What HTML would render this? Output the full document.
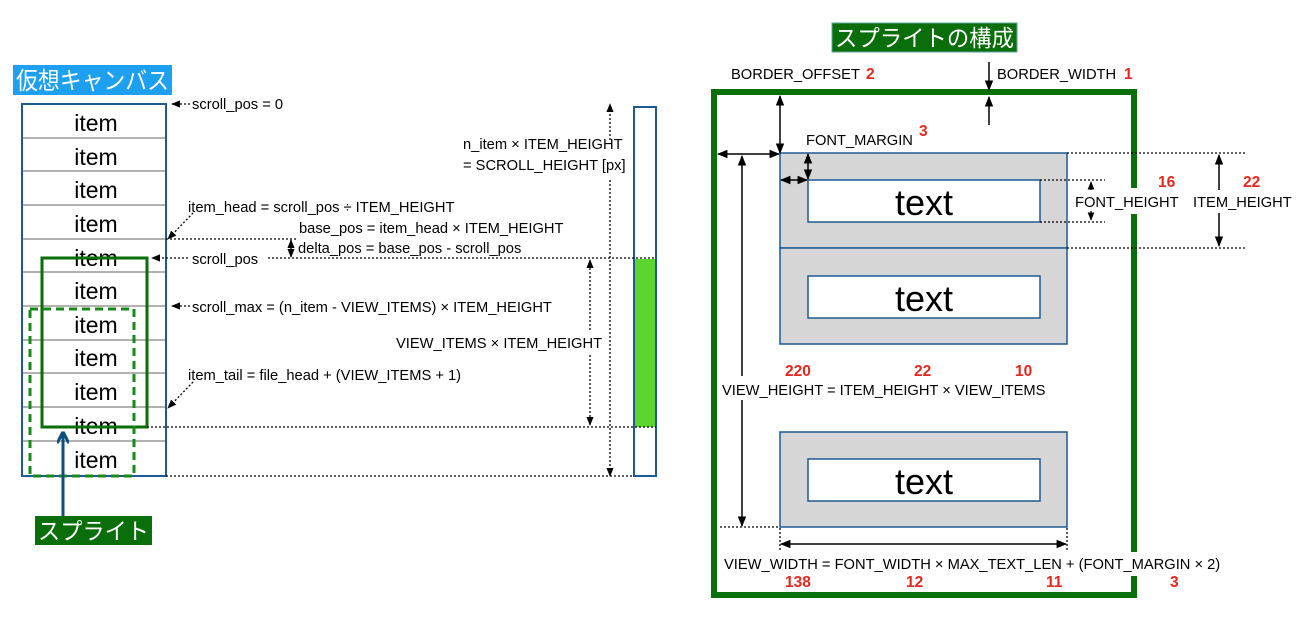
<!DOCTYPE html>
<html><head><meta charset="utf-8"><style>
html,body{margin:0;padding:0;background:#fff;}
svg text{font-family:"Liberation Sans","Noto Sans CJK JP",sans-serif;}
</style></head><body>
<svg width="1304" height="624" viewBox="0 0 1304 624" xmlns="http://www.w3.org/2000/svg">
<defs>
<marker id="a" viewBox="0 0 10 10" refX="9" refY="5" markerWidth="7" markerHeight="7" orient="auto-start-reverse"><path d="M0,1 L10,5 L0,9 z" fill="#000"/></marker>
<marker id="ab" viewBox="0 0 10 10" refX="8" refY="5" markerWidth="4" markerHeight="4" orient="auto"><path d="M0,0 L10,5 L0,10" fill="none" stroke="#0e4f7e" stroke-width="2.5"/></marker>
</defs>
<rect x="13" y="65" width="159" height="30" fill="#1ea0f0"/>
<text x="16" y="89" font-size="24" fill="#fff" textLength="153" lengthAdjust="spacingAndGlyphs">仮想キャンバス</text>
<g font-size="23" text-anchor="middle" fill="#000">
<rect x="22" y="104" width="144" height="372" fill="#fff" stroke="#1d5a94" stroke-width="2"/>
<g stroke="#999" stroke-width="1.5">
<line x1="23" y1="138" x2="165" y2="138"/><line x1="23" y1="171" x2="165" y2="171"/><line x1="23" y1="205" x2="165" y2="205"/><line x1="23" y1="239" x2="165" y2="239"/><line x1="23" y1="272" x2="165" y2="272"/><line x1="23" y1="306" x2="165" y2="306"/><line x1="23" y1="340" x2="165" y2="340"/><line x1="23" y1="373" x2="165" y2="373"/><line x1="23" y1="407" x2="165" y2="407"/><line x1="23" y1="441" x2="165" y2="441"/>
</g>
<text x="96" y="131">item</text><text x="96" y="165">item</text><text x="96" y="198">item</text><text x="96" y="232">item</text><text x="96" y="266">item</text><text x="96" y="299">item</text><text x="96" y="333">item</text><text x="96" y="366">item</text><text x="96" y="400">item</text><text x="96" y="434">item</text><text x="96" y="468">item</text>
</g>
<rect x="42" y="258" width="105" height="169" fill="none" stroke="#0a6e0a" stroke-width="3"/>
<rect x="30" y="309" width="104" height="167" fill="none" stroke="#178a17" stroke-width="3" stroke-dasharray="8,5"/>
<line x1="63" y1="517" x2="63" y2="434" stroke="#0e4f7e" stroke-width="3" marker-end="url(#ab)"/>
<rect x="35" y="516" width="117" height="29" fill="#0a6e0a"/>
<text x="38" y="539" font-size="23" fill="#fff" textLength="111" lengthAdjust="spacingAndGlyphs">スプライト</text>
<rect x="634" y="107" width="22" height="369" fill="#fff" stroke="#1d5a94" stroke-width="2"/>
<rect x="635" y="259" width="20" height="168" fill="#5ad62f"/>
<g stroke="#000" stroke-width="1.3" stroke-dasharray="2,2" fill="none">
<line x1="190" y1="104" x2="172" y2="104" marker-end="url(#a)"/>
<line x1="166" y1="239" x2="296" y2="239"/>
<line x1="188" y1="258" x2="152" y2="258" marker-end="url(#a)"/>
<line x1="268" y1="258" x2="656" y2="258"/>
<line x1="190" y1="306" x2="172" y2="306" marker-end="url(#a)"/>
<line x1="147" y1="427" x2="656" y2="427"/>
<line x1="166" y1="476" x2="634" y2="476"/>
<line x1="193" y1="213" x2="168" y2="239" marker-end="url(#a)"/>
<line x1="193" y1="382" x2="168" y2="408" marker-end="url(#a)"/>
<line x1="610" y1="140" x2="610" y2="104" marker-end="url(#a)"/>
<line x1="610" y1="180" x2="610" y2="476" marker-end="url(#a)"/>
<line x1="590" y1="330" x2="590" y2="260" marker-end="url(#a)"/>
<line x1="590" y1="355" x2="590" y2="425" marker-end="url(#a)"/>
</g>
<line x1="291" y1="240" x2="291" y2="257" stroke="#000" stroke-width="1.3" marker-start="url(#a)" marker-end="url(#a)"/>
<g font-size="14.7" fill="#000">
<text x="192" y="109">scroll_pos = 0</text>
<text x="463" y="149">n_item × ITEM_HEIGHT</text>
<text x="463" y="170">= SCROLL_HEIGHT [px]</text>
<text x="188" y="212">item_head = scroll_pos ÷ ITEM_HEIGHT</text>
<text x="299" y="233">base_pos = item_head × ITEM_HEIGHT</text>
<text x="298" y="253">delta_pos = base_pos - scroll_pos</text>
<text x="192" y="264">scroll_pos</text>
<text x="192" y="312">scroll_max = (n_item - VIEW_ITEMS) × ITEM_HEIGHT</text>
<text x="396" y="348">VIEW_ITEMS × ITEM_HEIGHT</text>
<text x="188" y="380">item_tail = file_head + (VIEW_ITEMS + 1)</text>
</g>
<rect x="832" y="23" width="185" height="29" fill="#0a6e0a" stroke="#5a9" stroke-width="1"/>
<text x="835" y="46" font-size="23" fill="#fff" textLength="179" lengthAdjust="spacingAndGlyphs">スプライトの構成</text>
<rect x="714" y="92" width="420" height="503" fill="none" stroke="#0a6e0a" stroke-width="6"/>
<g stroke="#1d5a94" stroke-width="1.5">
<rect x="780" y="153" width="287" height="95" fill="#d6d6d6"/>
<rect x="780" y="248" width="287" height="96" fill="#d6d6d6"/>
<rect x="780" y="432" width="287" height="95" fill="#d6d6d6"/>
<rect x="808" y="180" width="232" height="42" fill="#fff"/>
<rect x="808" y="276" width="232" height="42" fill="#fff"/>
<rect x="808" y="459" width="232" height="42" fill="#fff"/>
</g>
<g font-size="36" text-anchor="middle"><text x="924" y="215">text</text><text x="924" y="311">text</text><text x="924" y="494">text</text></g>
<g stroke="#000" stroke-width="1.3" stroke-dasharray="2,2" fill="none">
<line x1="1067" y1="153" x2="1245" y2="153"/><line x1="1067" y1="248" x2="1245" y2="248"/>
<line x1="1040" y1="180" x2="1105" y2="180"/><line x1="1040" y1="222" x2="1105" y2="222"/>
<line x1="720" y1="527" x2="780" y2="527"/>
<line x1="780" y1="528" x2="780" y2="550"/><line x1="1067" y1="528" x2="1067" y2="550"/>
</g>
<rect x="1070" y="188" width="108" height="26" fill="#fff"/>
<rect x="1085" y="552" width="60" height="24" fill="#fff"/>
<g stroke="#000" stroke-width="1.5" fill="none">
<line x1="989" y1="62" x2="989" y2="90" marker-end="url(#a)"/>
<line x1="989" y1="125" x2="989" y2="97" marker-end="url(#a)"/>
<line x1="780" y1="153" x2="780" y2="96" marker-start="url(#a)" marker-end="url(#a)"/>
<line x1="718" y1="154" x2="779" y2="154" marker-start="url(#a)" marker-end="url(#a)"/>
<line x1="808" y1="154" x2="808" y2="179" marker-start="url(#a)" marker-end="url(#a)"/>
<line x1="781" y1="180" x2="807" y2="180" marker-start="url(#a)" marker-end="url(#a)"/>
<line x1="742" y1="376" x2="742" y2="156" marker-end="url(#a)"/>
<line x1="742" y1="400" x2="742" y2="526" marker-end="url(#a)"/>
<line x1="1219" y1="190" x2="1219" y2="155" marker-end="url(#a)"/>
<line x1="1219" y1="213" x2="1219" y2="246" marker-end="url(#a)"/>
<line x1="781" y1="544" x2="1066" y2="544" marker-start="url(#a)" marker-end="url(#a)"/>
</g>
<g stroke="#000" stroke-width="1.2" fill="none">
<line x1="1091" y1="190" x2="1091" y2="182" marker-end="url(#a)"/>
<line x1="1091" y1="211" x2="1091" y2="220" marker-end="url(#a)"/>
</g>
<g font-size="14.7" fill="#000">
<text x="731" y="79">BORDER_OFFSET</text>
<text x="997" y="79">BORDER_WIDTH</text>
<text x="806" y="145">FONT_MARGIN</text>
<text x="1075" y="207">FONT_HEIGHT</text>
<text x="1193" y="207">ITEM_HEIGHT</text>
<text x="722" y="395">VIEW_HEIGHT = ITEM_HEIGHT × VIEW_ITEMS</text>
<text x="724" y="569">VIEW_WIDTH = FONT_WIDTH × MAX_TEXT_LEN + (FONT_MARGIN × 2)</text>
</g>
<g font-size="15.5" font-weight="bold" fill="#e8261c">
<text x="866" y="79">2</text><text x="1124" y="79">1</text><text x="919" y="136">3</text>
<text x="1158" y="187">16</text><text x="1243" y="187">22</text>
<text x="785" y="376">220</text><text x="914" y="376">22</text><text x="1015" y="376">10</text>
<text x="785" y="587">138</text><text x="906" y="587">12</text><text x="1046" y="587">11</text><text x="1170" y="587">3</text>
</g>
</svg>
</body></html>
